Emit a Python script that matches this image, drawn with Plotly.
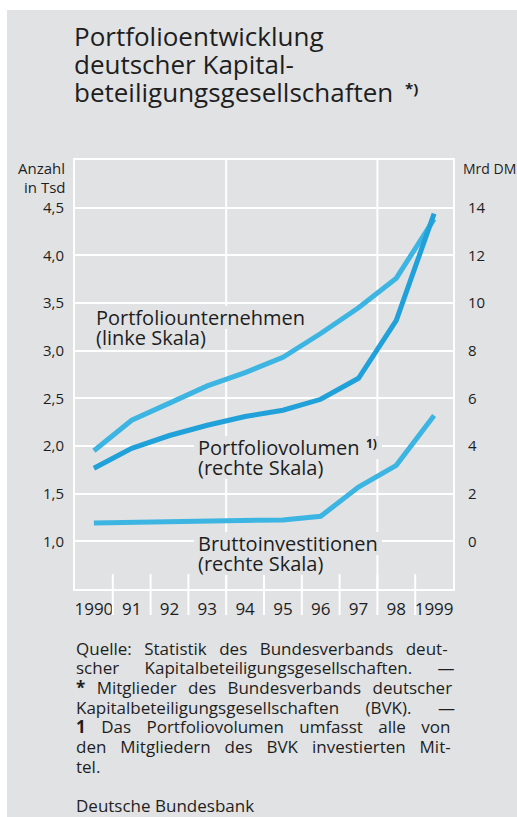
import plotly.graph_objects as go

# ---------------- data ----------------
years = [1990, 1991, 1992, 1993, 1994, 1995, 1996, 1997, 1998, 1999]
year_labels = ["1990", "91", "92", "93", "94", "95", "96", "97", "98", "1999"]

# Portfoliounternehmen, Anzahl in Tsd (linke Skala)
unternehmen = [1.95, 2.27, 2.45, 2.63, 2.77, 2.93, 3.18, 3.45, 3.76, 4.38]
# Portfoliovolumen, Mrd DM (rechte Skala)
volumen = [3.07, 3.9, 4.44, 4.87, 5.24, 5.5, 5.96, 6.84, 9.27, 13.75]
# Bruttoinvestitionen, Mrd DM (rechte Skala)
brutto = [0.77, 0.8, 0.82, 0.83, 0.86, 0.9, 1.05, 2.28, 3.19, 5.28]

left_ticks = [1.0, 1.5, 2.0, 2.5, 3.0, 3.5, 4.0, 4.5]
left_ticktext = ["1,0", "1,5", "2,0", "2,5", "3,0", "3,5", "4,0", "4,5"]
right_ticks = [0, 2, 4, 6, 8, 10, 12, 14]

footnote_lines = [
    "Quelle: Statistik des Bundesverbands deut-",
    "scher Kapitalbeteiligungsgesellschaften. —",
    "<b>*</b> Mitglieder des Bundesverbands deutscher",
    "Kapitalbeteiligungsgesellschaften (BVK). —",
    "<b>1</b> Das Portfoliovolumen umfasst alle von",
    "den Mitgliedern des BVK investierten Mit-",
    "tel.",
]
# extra word spacing (px) to imitate the justified setting of the source
footnote_wordspacing = [8, 21, 7, 22, 11, 9.5, 0]

# ---------------- layout geometry ----------------
W, H = 517, 817
PL, PR, PT, PB = 75, 453, 160, 589  # plot area in pixels
BG = "#e1e2e4"
TXT = "#1e1e1e"
FONT = "Open Sans"


def px(x):
    return (x - PL) / (PR - PL)


def py(y):
    return (PB - y) / (PB - PT)


fig = go.Figure()
fig.add_trace(go.Scatter(x=years, y=unternehmen, mode="lines",
                         line=dict(color="#3db5e2", width=5), yaxis="y"))
fig.add_trace(go.Scatter(x=years, y=volumen, mode="lines",
                         line=dict(color="#21a1d9", width=5), yaxis="y2"))
fig.add_trace(go.Scatter(x=years, y=brutto, mode="lines",
                         line=dict(color="#3db5e2", width=5), yaxis="y2"))

shapes = []
# white strips at top and left of the page
shapes.append(dict(type="rect", xref="paper", yref="paper", x0=px(0), x1=px(W),
                   y0=py(10), y1=py(0), fillcolor="white", line_width=0, layer="below"))
shapes.append(dict(type="rect", xref="paper", yref="paper", x0=px(0), x1=px(7),
                   y0=py(H), y1=py(0), fillcolor="white", line_width=0, layer="below"))
# vertical grid lines
for gx in [years[3] + 0.5, years[7] + 0.5]:
    shapes.append(dict(type="line", xref="x", yref="paper", x0=gx, x1=gx, y0=0, y1=1,
                       line=dict(color="white", width=2), layer="below"))
# year separators crossing the x axis
for yv in years[:-1]:
    shapes.append(dict(type="line", xref="x", yref="paper", x0=yv + 0.5, x1=yv + 0.5,
                       y0=py(615), y1=py(574), line=dict(color="white", width=2),
                       layer="above"))

annotations = []


def note(text, x, y, size, xanchor="left"):
    annotations.append(dict(text=text, xref="paper", yref="paper", x=px(x), y=py(y),
                            xanchor=xanchor, yanchor="middle", align="left",
                            showarrow=False, font=dict(family=FONT, size=size, color=TXT)))


# title
for i, t in enumerate(["Portfolioentwicklung", "deutscher Kapital-",
                       "beteiligungsgesellschaften"]):
    note(t, 72, 36 + 28 * i, 26)
note("<b>*)</b>", 403, 88, 15)
# axis unit labels
note("Anzahl", 67, 168, 15, xanchor="right")
note("in Tsd", 67, 187, 15, xanchor="right")
note("Mrd DM", 461, 168, 14)
# series labels: (text, left x, centre y, right edge of knock-out box)
series_lines = [
    ("Portfoliounternehmen", 94, 317, 306),
    ("(linke Skala)", 94, 337, 208),
    ("Portfoliovolumen", 196, 447, 382),
    ("(rechte Skala)", 196, 467, 331),
    ("Bruttoinvestitionen", 196, 543, 382),
    ("(rechte Skala)", 196, 563, 331),
]
for t, x, y, xr in series_lines:
    # grey box knocking out the grid behind the label
    shapes.append(dict(type="rect", xref="paper", yref="paper", x0=px(x - 2), x1=px(xr),
                       y0=py(y + 12), y1=py(y - 11), fillcolor=BG, line_width=0,
                       layer="above"))
    note(t, x, y, 20)
note("<b>1)</b>", 364, 443, 12)
# footnotes
for i, (t, ws) in enumerate(zip(footnote_lines, footnote_wordspacing)):
    note(f'<span style="word-spacing:{ws}px">{t}</span>', 74, 648 + 19.7 * i, 17)
note("Deutsche Bundesbank", 74, 805, 17)

fig.update_layout(
    width=W, height=H,
    margin=dict(l=PL, r=W - PR, t=PT, b=H - PB, pad=0),
    paper_bgcolor=BG, plot_bgcolor=BG,
    showlegend=False,
    font=dict(family=FONT, color=TXT),
    xaxis=dict(range=[1989.5, 1999.5], tickvals=years, ticktext=year_labels,
               showgrid=False, zeroline=False, ticks="",
               showline=True, mirror=True, linecolor="white", linewidth=2,
               tickfont=dict(size=17, color=TXT), ticklabelstandoff=4),
    yaxis=dict(range=[0.5, 5.0], tickvals=left_ticks, ticktext=left_ticktext,
               showgrid=True, gridcolor="white", gridwidth=2, zeroline=False, ticks="",
               showline=True, mirror=True, linecolor="white", linewidth=2,
               tickfont=dict(size=15, color=TXT), ticklabelstandoff=6),
    yaxis2=dict(range=[-2, 16], tickvals=right_ticks, overlaying="y", side="right",
                showgrid=False, zeroline=False, ticks="", showline=False,
                tickfont=dict(size=15, color=TXT), ticklabelstandoff=14),
    shapes=shapes,
    annotations=annotations,
)

fig.write_html(
    "out.html",
    config={"displayModeBar": False},
    post_script="document.body.style.margin='0';document.body.style.overflow='hidden';",
)
